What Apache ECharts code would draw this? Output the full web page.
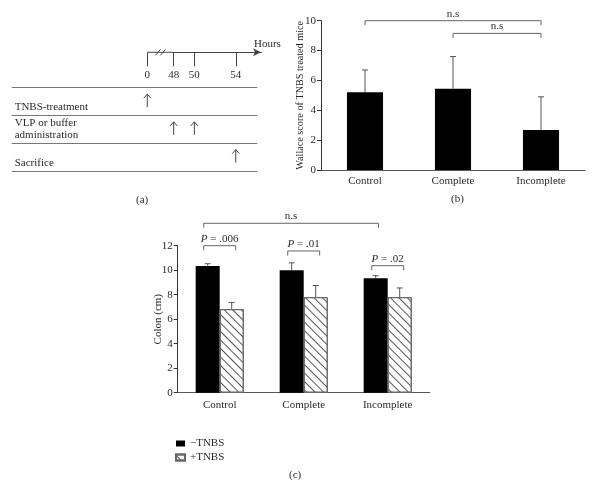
<!DOCTYPE html>
<html><head><meta charset="utf-8">
<script src="https://cdn.jsdelivr.net/npm/echarts@6/dist/echarts.min.js"></script>
<style>html,body{margin:0;padding:0;background:#fff}#c{width:605px;height:486px}</style>
</head><body><div id="c"></div>
<script>
// ---------- Panel (a): experimental timeline ----------
const timePoints = [0, 48, 50, 54];
const rowLabels = ['TNBS-treatment', 'VLP or buffer\nadministration', 'Sacrifice'];
const eventHours = [0, 48, 50, 54];
const eventRows = [0, 1, 1, 2];

// ---------- Panel (b): Wallace score ----------
const categoriesB = ['Control', 'Complete', 'Incomplete'];
const wallaceMean = [5.2, 5.45, 2.68];
const wallaceErr = [1.5, 2.15, 2.22];
const bracketBFrom = [0, 1];
const bracketBTo = [2, 2];
const bracketBLevel = [10, 9.15];
const bracketBLabel = ['n.s', 'n.s'];

// ---------- Panel (c): colon length ----------
const categoriesC = ['Control', 'Complete', 'Incomplete'];
const seriesNames = ['\u2212TNBS', '+TNBS'];
const colonMinus = [10.35, 10.0, 9.35];
const colonMinusErr = [0.18, 0.6, 0.2];
const colonPlus = [6.82, 7.8, 7.8];
const colonPlusErr = [0.55, 0.95, 0.75];
const pLevels = [12.0, 11.57, 10.37];
const pLabels = ['.006', '.01', '.02'];
const nsCLevel = 13.83;
const nsCLabel = 'n.s';

const FONT = 'Liberation Serif';
const TXT = '#2a2a2a';
const AX = '#444';
const BAR_C = 0.286;

const chart = echarts.init(document.getElementById('c'), null, {renderer: 'canvas'});

function errRender(side, barFrac) {
  return function (params, api) {
    const idx = api.value(0), m = api.value(1), e = api.value(2);
    const band = api.size([1, 0])[0];
    const off = side * barFrac * band / 2;
    const p0 = api.coord([idx, m]);
    const p1 = api.coord([idx, m + e]);
    const x = p0[0] + off;
    return {type: 'group', children: [
      {type: 'line', shape: {x1: x, y1: p0[1], x2: x, y2: p1[1]}, style: {stroke: '#555', lineWidth: 1}},
      {type: 'line', shape: {x1: x - 3, y1: p1[1], x2: x + 3, y2: p1[1]}, style: {stroke: '#555', lineWidth: 1}}
    ]};
  };
}

const option = {
  animation: false,
  backgroundColor: '#fff',
  textStyle: {fontFamily: FONT, color: TXT},
  grid: [
    {left: 147.3, top: 40, width: 113.7, height: 12.3},
    {left: 11.7, top: 87.7, width: 245.6, height: 83.3},
    {left: 321, top: 20.7, width: 264, height: 149.3},
    {left: 177.7, top: 245.7, width: 252, height: 147}
  ],
  xAxis: [
    {gridIndex: 0, type: 'value', min: 0, max: 56.44,
      breaks: [{start: 0, end: 48, gap: 2.55}], breakArea: {show: false},
      axisLine: {show: true, symbol: ['none', 'arrow'], symbolSize: [6, 8], lineStyle: {color: AX, width: 1}},
      axisTick: {show: true, customValues: timePoints, length: 14, lineStyle: {color: AX}},
      axisLabel: {show: true, customValues: timePoints, margin: 17, fontSize: 11, fontFamily: FONT, color: TXT},
      splitLine: {show: false},
      name: 'Hours', nameLocation: 'end', nameGap: -7, nameMoveOverlap: false,
      nameTextStyle: {align: 'left', verticalAlign: 'bottom', padding: [0, 0, 3, 0], fontSize: 11, fontFamily: FONT, color: TXT}
    },
    {gridIndex: 1, type: 'value', min: -13.10, max: 56.08,
      breaks: [{start: 0, end: 48, gap: 2.55}], breakArea: {show: false},
      show: false
    },
    {gridIndex: 2, type: 'category', data: categoriesB,
      axisLine: {lineStyle: {color: '#555'}}, axisTick: {show: false},
      axisLabel: {margin: 6, fontSize: 11, fontFamily: FONT, color: TXT}
    },
    {gridIndex: 3, type: 'category', data: categoriesC,
      axisLine: {lineStyle: {color: '#555'}}, axisTick: {show: false},
      axisLabel: {margin: 7, fontSize: 11, fontFamily: FONT, color: TXT}
    }
  ],
  yAxis: [
    {gridIndex: 0, type: 'value', min: 0, max: 1, show: false},
    {gridIndex: 1, type: 'category', data: rowLabels, inverse: true,
      axisLine: {show: false}, axisTick: {show: false},
      splitLine: {show: true, lineStyle: {color: '#777', width: 1}},
      axisLabel: {inside: true, margin: 3,
        formatter: function (v) {
          if (v.indexOf('\n') >= 0) return v.split('\n').map(s => '{m|' + s + '}').join('\n');
          return '{s|' + v + '}';
        },
        rich: {
          s: {padding: [11, 0, 0, 0], fontSize: 11, fontFamily: FONT, color: TXT},
          m: {fontSize: 11, lineHeight: 12, fontFamily: FONT, color: TXT}
        }
      }
    },
    {gridIndex: 2, type: 'value', min: 0, max: 10, interval: 2,
      axisLine: {show: true, lineStyle: {color: '#333'}},
      axisTick: {show: true, length: 4, lineStyle: {color: '#333'}},
      splitLine: {show: false},
      axisLabel: {margin: 5, fontSize: 11, fontFamily: FONT, color: TXT},
      name: 'Wallace score of TNBS treated mice', nameLocation: 'middle', nameGap: 16, nameMoveOverlap: false,
      nameTextStyle: {fontSize: 10.2, fontFamily: FONT, color: TXT}
    },
    {gridIndex: 3, type: 'value', min: 0, max: 12, interval: 2,
      axisLine: {show: true, lineStyle: {color: '#333'}},
      axisTick: {show: true, length: 4, lineStyle: {color: '#333'}},
      splitLine: {show: false},
      axisLabel: {margin: 5, fontSize: 11, fontFamily: FONT, color: TXT},
      name: 'Colon (cm)', nameLocation: 'middle', nameGap: 14, nameMoveOverlap: false,
      nameTextStyle: {fontSize: 11, fontFamily: FONT, color: TXT}
    }
  ],
  legend: {
    data: seriesNames, orient: 'vertical', left: 170, top: 433,
    itemWidth: 9, itemHeight: 6, itemGap: 3, icon: 'rect',
    textStyle: {fontFamily: FONT, fontSize: 11, color: TXT}
  },
  graphic: [
    {type: 'text', left: 136, top: 195, style: {text: '(a)', fontFamily: FONT, fontSize: 11, fill: TXT}},
    {type: 'text', left: 451, top: 194, style: {text: '(b)', fontFamily: FONT, fontSize: 11, fill: TXT}},
    {type: 'text', left: 289, top: 470, style: {text: '(c)', fontFamily: FONT, fontSize: 11, fill: TXT}}
  ],
  series: [
    // timeline segment across the break, with break mark
    {type: 'custom', xAxisIndex: 0, yAxisIndex: 0, silent: true,
      data: [[timePoints[0], timePoints[1]]],
      renderItem: function (params, api) {
        const a = api.coord([api.value(0), 0]);
        const b = api.coord([api.value(1), 0]);
        const mx = (a[0] + b[0]) / 2, y = a[1];
        const kids = [{type: 'line', shape: {x1: a[0], y1: y, x2: b[0], y2: y}, style: {stroke: AX, lineWidth: 1}}];
        [-2.5, 2.5].forEach(d => kids.push({
          type: 'line', shape: {x1: mx + d - 2.5, y1: y + 3, x2: mx + d + 2.5, y2: y - 3},
          style: {stroke: AX, lineWidth: 1}
        }));
        return {type: 'group', children: kids};
      }
    },
    // event arrows
    {type: 'custom', xAxisIndex: 1, yAxisIndex: 1, silent: true,
      data: eventHours.map((h, i) => [h, eventRows[i]]),
      renderItem: function (params, api) {
        const p = api.coord([api.value(0), api.value(1)]);
        const x = p[0], yc = p[1] - 1;
        const top = yc - 6.5, bot = yc + 6.5;
        return {type: 'group', children: [
          {type: 'line', shape: {x1: x, y1: top, x2: x, y2: bot}, style: {stroke: AX, lineWidth: 1}},
          {type: 'polyline', shape: {points: [[x - 3.5, top + 4], [x, top], [x + 3.5, top + 4]]}, style: {stroke: AX, fill: 'none', lineWidth: 1}}
        ]};
      }
    },
    // panel (b) bars
    {type: 'bar', xAxisIndex: 2, yAxisIndex: 2, data: wallaceMean, barWidth: '41%',
      itemStyle: {color: '#000'}, silent: true},
    {type: 'custom', xAxisIndex: 2, yAxisIndex: 2, silent: true,
      data: wallaceMean.map((m, i) => [i, m, wallaceErr[i]]),
      renderItem: errRender(0, 0)},
    {type: 'custom', xAxisIndex: 2, yAxisIndex: 2, silent: true,
      data: bracketBFrom.map((f, i) => [f, bracketBTo[i], bracketBLevel[i]]),
      renderItem: function (params, api) {
        const p1 = api.coord([api.value(0), api.value(2)]);
        const p2 = api.coord([api.value(1), api.value(2)]);
        const y = p1[1];
        return {type: 'group', children: [
          {type: 'polyline', shape: {points: [[p1[0], y + 4.5], [p1[0], y], [p2[0], y], [p2[0], y + 4.5]]}, style: {stroke: '#666', fill: 'none', lineWidth: 1}},
          {type: 'text', style: {text: bracketBLabel[params.dataIndex], x: (p1[0] + p2[0]) / 2, y: y - 1.5, align: 'center', verticalAlign: 'bottom', fontFamily: FONT, fontSize: 11, fill: TXT}}
        ]};
      }
    },
    // panel (c) bars
    {type: 'bar', name: seriesNames[0], xAxisIndex: 3, yAxisIndex: 3, data: colonMinus,
      barWidth: (BAR_C * 100) + '%', barGap: '0%', itemStyle: {color: '#000'}, silent: true},
    {type: 'bar', name: seriesNames[1], xAxisIndex: 3, yAxisIndex: 3, data: colonPlus,
      barWidth: (BAR_C * 100) + '%', barGap: '0%', silent: true,
      itemStyle: {color: '#fff', borderColor: '#666', borderWidth: 1,
        decal: {symbol: 'rect', symbolSize: 1, rotation: Math.PI / 4, dashArrayX: [1, 0], dashArrayY: [0.7, 4.3], color: '#555'}}},
    {type: 'custom', xAxisIndex: 3, yAxisIndex: 3, silent: true,
      data: colonMinus.map((m, i) => [i, m, colonMinusErr[i]]),
      renderItem: errRender(-1, BAR_C)},
    {type: 'custom', xAxisIndex: 3, yAxisIndex: 3, silent: true,
      data: colonPlus.map((m, i) => [i, m, colonPlusErr[i]]),
      renderItem: errRender(1, BAR_C)},
    // panel (c) P-value brackets
    {type: 'custom', xAxisIndex: 3, yAxisIndex: 3, silent: true,
      data: pLevels.map((l, i) => [i, l]),
      renderItem: function (params, api) {
        const p = api.coord([api.value(0), api.value(1)]);
        const band = api.size([1, 0])[0];
        const x1 = p[0] - 0.19 * band, x2 = p[0] + 0.19 * band, y = p[1];
        return {type: 'group', children: [
          {type: 'polyline', shape: {points: [[x1, y + 4.5], [x1, y], [x2, y], [x2, y + 4.5]]}, style: {stroke: '#666', fill: 'none', lineWidth: 1}},
          {type: 'text', style: {text: '{i|P} = ' + pLabels[params.dataIndex], x: p[0], y: y - 1.5, align: 'center', verticalAlign: 'bottom',
            fontFamily: FONT, fontSize: 11, fill: TXT,
            rich: {i: {fontStyle: 'italic', fontFamily: FONT, fontSize: 11, fill: TXT}}}}
        ]};
      }
    },
    // panel (c) n.s bracket
    {type: 'custom', xAxisIndex: 3, yAxisIndex: 3, silent: true,
      data: [[0, 2, nsCLevel]],
      renderItem: function (params, api) {
        const band = api.size([1, 0])[0];
        const p1 = api.coord([api.value(0), api.value(2)]);
        const p2 = api.coord([api.value(1), api.value(2)]);
        const x1 = p1[0] - 0.19 * band, x2 = p2[0] - 0.11 * band, y = p1[1];
        return {type: 'group', children: [
          {type: 'polyline', shape: {points: [[x1, y + 4.5], [x1, y], [x2, y], [x2, y + 4.5]]}, style: {stroke: '#666', fill: 'none', lineWidth: 1}},
          {type: 'text', style: {text: nsCLabel, x: (x1 + x2) / 2, y: y - 1.5, align: 'center', verticalAlign: 'bottom', fontFamily: FONT, fontSize: 11, fill: TXT}}
        ]};
      }
    }
  ]
};
chart.setOption(option);
</script>
</body></html>
